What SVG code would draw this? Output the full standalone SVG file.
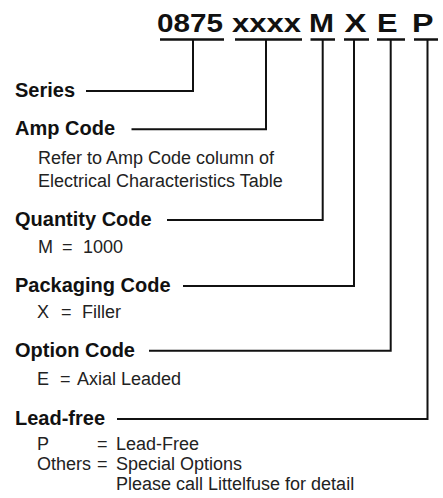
<svg xmlns="http://www.w3.org/2000/svg" width="443" height="498" viewBox="0 0 443 498">
<style>
.t{font-family:"Liberation Sans",Arial,sans-serif;font-weight:bold;font-size:25.5px;fill:#111}
.h{font-family:"Liberation Sans",Arial,sans-serif;font-weight:bold;font-size:20px;fill:#111}
.s{font-family:"Liberation Sans",Arial,sans-serif;font-size:18px;fill:#222}
.u{stroke:#111;stroke-width:2.5;fill:none}
.c{stroke:#111;stroke-width:2;fill:none}
</style>
<rect width="443" height="498" fill="#fff"/>
<g id="code">
<text class="t" x="157" y="32" textLength="66" lengthAdjust="spacingAndGlyphs">0875</text>
<text class="t" x="232" y="32" textLength="69" lengthAdjust="spacingAndGlyphs">xxxx</text>
<text class="t" x="309" y="32" textLength="25" lengthAdjust="spacingAndGlyphs">M</text>
<text class="t" x="344.5" y="32" textLength="22" lengthAdjust="spacingAndGlyphs">X</text>
<text class="t" x="377" y="32" textLength="20.5" lengthAdjust="spacingAndGlyphs">E</text>
<text class="t" x="412" y="32" textLength="21.5" lengthAdjust="spacingAndGlyphs">P</text>
<path class="u" d="M160 39.5H224M235 39.5H302M310.5 39.5H335M344 39.5H369M377 39.5H405M414 39.5H438"/>
</g>
<g id="connectors">
<path class="c" d="M86 91H193V39.5"/>
<path class="c" d="M131.5 129.3H266V39.5"/>
<path class="c" d="M167 220H322.7V39.5"/>
<path class="c" d="M183 286H354V39.5"/>
<path class="c" d="M149 350.7H390.7V39.5"/>
<path class="c" d="M117 419H427.5V39.5"/>
</g>
<g id="series"><text class="h" x="15" y="97">Series</text></g>
<g id="amp">
<text class="h" x="15" y="135">Amp Code</text>
<text class="s" x="38" y="164">Refer to Amp Code column of</text>
<text class="s" x="38" y="187">Electrical Characteristics Table</text>
</g>
<g id="quantity">
<text class="h" x="15" y="226">Quantity Code</text>
<text class="s" y="253"><tspan x="38">M</tspan><tspan x="62">=</tspan><tspan x="83">1000</tspan></text>
</g>
<g id="packaging">
<text class="h" x="15" y="292">Packaging Code</text>
<text class="s" y="318"><tspan x="37">X</tspan><tspan x="61">=</tspan><tspan x="82">Filler</tspan></text>
</g>
<g id="option">
<text class="h" x="15" y="357">Option Code</text>
<text class="s" y="385"><tspan x="37">E</tspan><tspan x="60">=</tspan><tspan x="77">Axial Leaded</tspan></text>
</g>
<g id="leadfree">
<text class="h" x="15" y="425">Lead-free</text>
<text class="s" y="450"><tspan x="37">P</tspan><tspan x="97">=</tspan><tspan x="116">Lead-Free</tspan></text>
<text class="s" y="470"><tspan x="37">Others</tspan><tspan x="97">=</tspan><tspan x="116">Special Options</tspan></text>
<text class="s" x="116" y="490">Please call Littelfuse for detail</text>
</g>
</svg>
